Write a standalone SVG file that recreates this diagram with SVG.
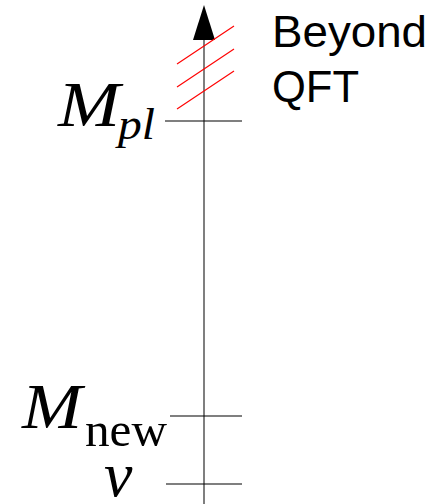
<svg xmlns="http://www.w3.org/2000/svg" width="448" height="504" viewBox="0 0 448 504">
<style>
.tick{stroke:#000;stroke-width:1.2}
.hatch{stroke:#ff0000;stroke-width:1.2}
.lbl{font-family:"Liberation Serif","DejaVu Serif",serif;fill:#000}
.it{font-style:italic}
.txt{font-family:"Liberation Sans",Arial,sans-serif;font-size:44px;fill:#000}
</style>
<g id="connectors">
<line x1="204" y1="504" x2="204" y2="38" stroke="#555" stroke-width="1.5"/>
<path d="M193,40 L204,5 L215,40 Z" fill="#000"/>
</g>
<g id="hatch">
<line class="hatch" x1="177" y1="64" x2="234" y2="26"/>
<line class="hatch" x1="177" y1="87" x2="234" y2="49"/>
<line class="hatch" x1="177" y1="109" x2="234" y2="71"/>
</g>
<g id="beyond">
<text class="txt" x="272" y="47" textLength="155" lengthAdjust="spacingAndGlyphs">Beyond</text>
<text class="txt" x="272" y="102" textLength="87" lengthAdjust="spacingAndGlyphs">QFT</text>
</g>
<g id="mpl">
<line class="tick" x1="165" y1="121" x2="242" y2="121"/>
<text class="lbl it" x="58" y="126" font-size="63" textLength="62" lengthAdjust="spacingAndGlyphs">M</text>
<text class="lbl it" x="118" y="139" font-size="45" textLength="37" lengthAdjust="spacingAndGlyphs">pl</text>
</g>
<g id="mnew">
<line class="tick" x1="170" y1="416" x2="242" y2="416"/>
<text class="lbl it" x="22" y="428" font-size="63" textLength="60" lengthAdjust="spacingAndGlyphs">M</text>
<text class="lbl" x="85" y="446" font-size="48" textLength="82" lengthAdjust="spacingAndGlyphs">new</text>
</g>
<g id="v">
<line class="tick" x1="166" y1="484" x2="242" y2="484"/>
<text class="lbl it" x="104" y="496" font-size="64">v</text>
</g>
</svg>
